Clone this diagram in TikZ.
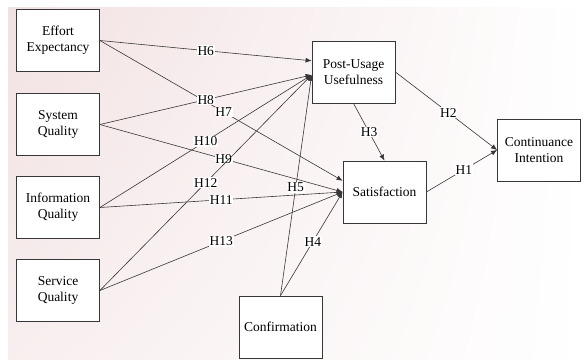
\documentclass[tikz,border=0pt]{standalone}
\usepackage{fontspec}
\setmainfont{Liberation Serif}
\usetikzlibrary{positioning}
\usetikzlibrary{arrows.meta}
\usetikzlibrary{shadings}
\definecolor{bgpink}{RGB}{242,225,226}
\definecolor{linegray}{RGB}{55,55,55}
\tikzset{
  construct/.style={draw=linegray, line width=0.8pt, fill=white,
    minimum width=83pt, minimum height=62pt, align=center, inner sep=2pt,
    font=\fontsize{13.5}{16}\selectfont},
  hyp/.style={draw=linegray, line width=0.6pt, -{Latex[length=6pt,width=5pt]}},
  hlabel/.style={fill=white, inner sep=0.8pt, font=\fontsize{13.5}{16}\selectfont}
}

\begin{document}
\begin{tikzpicture}[x=1pt,y=-1pt]
\useasboundingbox (0,0) rectangle (584,360);
\shade[upper left=bgpink, lower left=bgpink!55!white,
  upper right=white, lower right=white] (8,7) rectangle (584,359);

% constructs
\node[construct] (ee) at (58,40.5) {Effort\\Expectancy};
\node[construct] (sq) at (58,124.5) {System\\Quality};
\node[construct] (iq) at (58,207.5) {Information\\Quality};
\node[construct] (svq) at (58,290.5) {Service\\Quality};
\node[construct] (pu) at (353.5,72) {Post-Usage\\Usefulness};
\node[construct] (sat) at (384.5,192) {Satisfaction};
\node[construct] (ci) at (539,150) {Continuance\\Intention};
\node[construct] (conf) at (280.5,327) {Confirmation};

% hypotheses
\foreach \a/\b/\h/\p in {ee.east/pu.165/H6/.5, ee.east/sat.165/H7/.51,
  sq.east/pu.184/H8/.5, sq.east/sat.west/H9/.51,
  iq.east/pu.184/H10/.5, iq.east/sat.west/H11/.5,
  svq.east/pu.184/H12/.5, svq.east/sat.west/H13/.5,
  conf.north/pu.184/H5/.49, conf.north/sat.west/H4/.52,
  pu.south/sat.north/H3/.5, pu.east/ci.west/H2/.52,
  sat.east/ci.west/H1/.53} {
\draw[hyp] (\a) -- node[hlabel,pos=\p] {\h} (\b);
}
\end{tikzpicture}
\end{document}
